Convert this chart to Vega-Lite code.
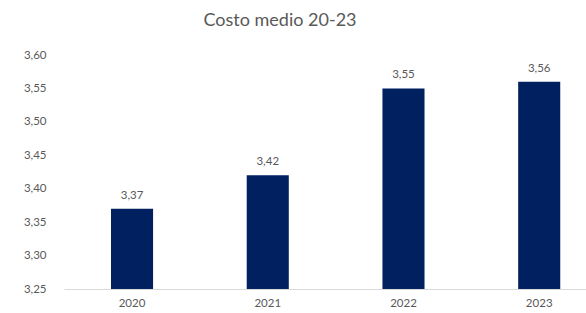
{
  "$schema": "https://vega.github.io/schema/vega-lite/v6.json",
  "autosize": "none",
  "width": 522,
  "height": 234,
  "padding": {"left": 64, "top": 55, "right": 0, "bottom": 24},
  "background": "white",
  "title": {
    "text": "Costo medio 20-23",
    "font": "Lato",
    "fontSize": 18,
    "fontWeight": "normal",
    "color": "#595959",
    "anchor": "middle",
    "frame": "group",
    "dx": -45,
    "offset": 19
  },
  "config": {
    "view": {"stroke": null},
    "locale": {"number": {"decimal": ",", "thousands": ".", "grouping": [3], "currency": ["", " €"]}}
  },
  "data": {
    "values": [
      {"anno": "2020", "costo": 3.37},
      {"anno": "2021", "costo": 3.42},
      {"anno": "2022", "costo": 3.55},
      {"anno": "2023", "costo": 3.56}
    ]
  },
  "encoding": {
    "x": {
      "field": "anno",
      "type": "nominal",
      "sort": null,
      "scale": {"paddingInner": 0.69, "paddingOuter": 0.268, "align": 0.646},
      "axis": {
        "title": null,
        "labelAngle": 0,
        "labelFont": "Lato",
        "labelFontSize": 11.5,
        "labelColor": "#595959",
        "labelPadding": 8,
        "ticks": false,
        "domainColor": "#d9d9d9",
        "domainWidth": 1
      }
    },
    "y": {
      "field": "costo",
      "type": "quantitative",
      "scale": {"domain": [3.25, 3.6], "zero": false, "nice": false},
      "axis": {
        "title": null,
        "values": [3.25, 3.3, 3.35, 3.4, 3.45, 3.5, 3.55, 3.6],
        "format": ".2f",
        "labelFont": "Lato",
        "labelFontSize": 11.5,
        "labelColor": "#595959",
        "labelPadding": 18,
        "ticks": false,
        "domain": false,
        "grid": false
      }
    }
  },
  "layer": [
    {"mark": {"type": "bar", "color": "#002060", "clip": true}},
    {
      "mark": {"type": "text", "baseline": "bottom", "dy": -8, "font": "Lato", "fontSize": 11.5, "color": "#595959"},
      "encoding": {"text": {"field": "costo", "type": "quantitative", "format": ".2f"}}
    }
  ]
}
